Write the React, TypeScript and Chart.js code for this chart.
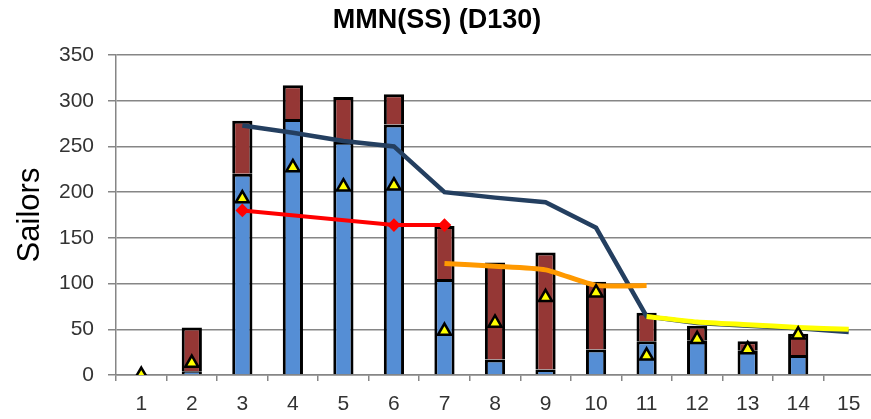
import React, { useEffect, useRef } from "react";
import { Chart, registerables } from "chart.js";

Chart.register(...registerables);

const categories = ["1", "2", "3", "4", "5", "6", "7", "8", "9", "10", "11", "12", "13", "14", "15"];
const blueValues = [null, 4, 220, 280, 255, 274, 105, 17, 6, 28, 37, 38, 27, 22, null];
const redValues = [null, 48, 58, 37, 49, 33, 58, 106, 128, 74, 31, 16, 10, 23, null];
const triangleValues = [0, 13, 193, 227, 206, 207, 48, 57, 85, 90, 21, 39, 28, 44, null];
const navyValues = [null, null, 273, 265, 256, 250, 200, 194, 189, 161, 64, 57, 54, 51, 47];
const redLineValues = [null, null, 180, null, null, 164, 164, null, null, null, null, null, null, null, null];
const orangeValues = [null, null, null, null, null, null, 122, 119, 115, 98, 98, null, null, null, null];
const yellowValues = [null, null, null, null, null, null, null, null, null, null, 64, 58, 55, 52, 50];

const FONT = "'Liberation Sans', Arial, sans-serif";

export default function App() {
  const ref = useRef<HTMLCanvasElement | null>(null);

  useEffect(() => {
    const canvas = ref.current;
    if (!canvas) return;
    const chart = new Chart(canvas, {
      type: "bar",
      data: {
        labels: categories,
        datasets: [
          {
            type: "line",
            label: "Target",
            data: triangleValues,
            showLine: false,
            pointStyle: "triangle",
            pointRadius: 7.5,
            pointBackgroundColor: "#FFFF00",
            pointBorderColor: "#000000",
            pointBorderWidth: 2.5,
            stack: "tri",
            order: 0,
          } as any,
          {
            type: "line",
            label: "Yellow",
            data: yellowValues,
            borderColor: "#FFFF00",
            borderWidth: 5,
            pointRadius: 0,
            tension: 0.2,
            stack: "yellow",
            order: 1,
          } as any,
          {
            type: "line",
            label: "Orange",
            data: orangeValues,
            borderColor: "#FF9900",
            borderWidth: 5,
            pointRadius: 0,
            tension: 0.2,
            stack: "orange",
            order: 2,
          } as any,
          {
            type: "line",
            label: "Red",
            data: redLineValues,
            borderColor: "#FF0000",
            borderWidth: 4,
            pointStyle: "rectRot",
            pointRadius: 4,
            pointBackgroundColor: "#FF0000",
            pointBorderColor: "#FF0000",
            spanGaps: true,
            stack: "red",
            order: 3,
          } as any,
          {
            type: "line",
            label: "Navy",
            data: navyValues,
            borderColor: "#243F60",
            borderWidth: 4.5,
            pointRadius: 0,
            tension: 0,
            stack: "navy",
            order: 4,
          } as any,
          {
            type: "bar",
            label: "Blue",
            data: blueValues,
            backgroundColor: "#558ED5",
            borderColor: "#000000",
            borderWidth: 3,
            borderSkipped: "start",
            stack: "bars",
            barPercentage: 0.4,
            categoryPercentage: 1,
            order: 5,
          } as any,
          {
            type: "bar",
            label: "Dark red",
            data: redValues,
            backgroundColor: "#953735",
            borderColor: "#000000",
            borderWidth: 3,
            borderSkipped: "start",
            stack: "bars",
            barPercentage: 0.4,
            categoryPercentage: 1,
            order: 6,
          } as any,
        ],
      },
      options: {
        responsive: false,
        animation: false,
        devicePixelRatio: 1,
        layout: { padding: { left: 0, right: 36, top: 0, bottom: 0 } },
        plugins: {
          legend: { display: false },
          tooltip: { enabled: false },
          title: {
            display: true,
            text: "MMN(SS) (D130)",
            color: "#000000",
            font: { family: FONT, size: 27, weight: "bold" },
            padding: { top: 4, bottom: 18.6 },
          },
        },
        scales: {
          x: {
            stacked: true,
            grid: {
              drawOnChartArea: false,
              tickLength: 6,
              color: "#868686",
              lineWidth: 1.5,
              offset: true,
            },
            border: { color: "#868686", width: 1.5 },
            ticks: {
              color: "#333333",
              font: { family: FONT, size: 21 },
              padding: 11,
              maxRotation: 0,
              autoSkip: false,
            },
            afterFit: (s: any) => {
              s.height = 44;
            },
          },
          y: {
            stacked: true,
            min: 0,
            max: 350,
            ticks: {
              stepSize: 50,
              color: "#333333",
              font: { family: FONT, size: 21 },
              padding: 14,
            },
            grid: {
              color: "#868686",
              lineWidth: 1.5,
              tickLength: 8,
            },
            border: { color: "#868686", width: 1.5 },
            title: {
              display: true,
              text: "Sailors",
              color: "#000000",
              font: { family: FONT, size: 31 },
              padding: { top: 12, bottom: 0 },
            },
            afterFit: (s: any) => {
              s.width = 116;
            },
          },
        },
      },
    });
    return () => chart.destroy();
  }, []);

  return (
    <div
      style={{
        position: "fixed",
        left: 0,
        top: 0,
        width: 871,
        height: 419,
        overflow: "hidden",
        background: "#ffffff",
      }}
    >
      <canvas ref={ref} width={910} height={419} style={{ display: "block" }} />
    </div>
  );
}
